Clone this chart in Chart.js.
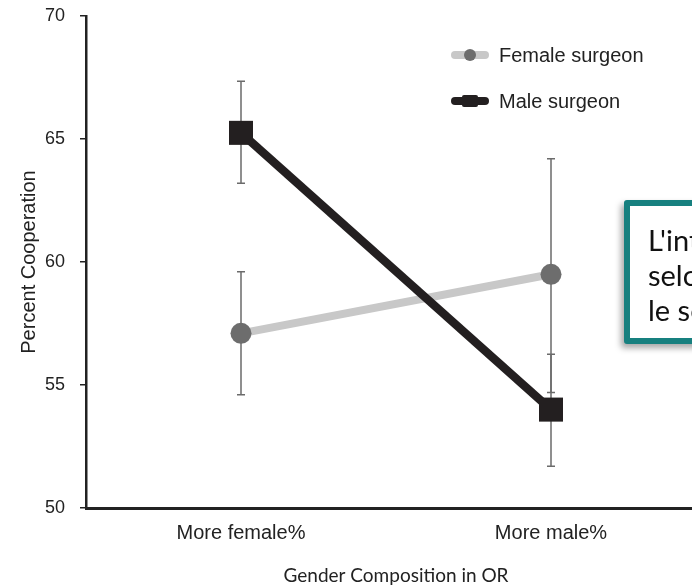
<!DOCTYPE html>
<html>
<head>
<meta charset="utf-8">
<script src="https://cdn.jsdelivr.net/npm/chart.js@4"></script>
<style>
  html, body { margin: 0; padding: 0; background: #fff; }
  body { width: 692px; height: 587px; overflow: hidden; position: relative; }
  #wrap { position: absolute; left: 0; top: 0; width: 720px; height: 587px; }
  .legend { position: absolute; left: 450px; font: 20px "Liberation Sans", Arial, sans-serif; color: #222; }
  .legend .item { position: absolute; left: 0; white-space: nowrap; height: 24px; }
  .legend .sym { position: absolute; left: 0; top: 0; width: 40px; height: 24px; }
  .legend .txt { position: absolute; left: 49px; top: 0; line-height: 24px; }
  .callout {
    position: absolute; left: 624px; top: 200px; width: 320px; height: 144px;
    border: 6px solid #17807f; border-radius: 3px; background: #fff;
    box-shadow: -3px 4px 6px rgba(0,0,0,0.35);
    font: 29px Lato, "Open Sans", sans-serif; color: #111; line-height: 35px;
    padding: 16px 0 0 18px; box-sizing: border-box; white-space: nowrap; z-index: 5;
  }
</style>
</head>
<body>
<div id="wrap"><canvas id="chart" width="720" height="587"></canvas></div>

<div class="legend">
  <div class="item" style="top:43px">
    <svg class="sym" viewBox="0 0 40 24"><line x1="5" y1="12" x2="35" y2="12" stroke="#c8c8c8" stroke-width="8" stroke-linecap="round"/><circle cx="20" cy="12" r="6" fill="#6d6d6d"/></svg>
    <span class="txt">Female surgeon</span>
  </div>
  <div class="item" style="top:89px">
    <svg class="sym" viewBox="0 0 40 24"><line x1="5" y1="12" x2="35" y2="12" stroke="#231f20" stroke-width="8" stroke-linecap="round"/><rect x="12" y="6" width="16" height="12" rx="2" fill="#231f20"/></svg>
    <span class="txt">Male surgeon</span>
  </div>
</div>

<div class="callout">L'interaction diffère<br>selon la composition<br>le sexe du chirurgien</div>

<script>
// Categories and tick values
const categories = ['More female%', 'More male%'];
const yTicks = [50, 55, 60, 65, 70];

// Mean percent cooperation per series
const femaleMeans = [57.1, 59.5];
const maleMeans = [65.25, 54.0];

// Error bar extents (low / high) per series
const femaleLow = [54.6, 54.7];
const femaleHigh = [59.6, 64.2];
const maleLow = [63.2, 51.7];
const maleHigh = [67.35, 56.25];

const errorBars = [
  { low: femaleLow, high: femaleHigh },
  { low: maleLow, high: maleHigh }
];

// Vertical whiskers with short caps, drawn beneath the lines and markers
const errorBarPlugin = {
  id: 'errorBars',
  beforeDatasetsDraw(chart) {
    const { ctx, scales: { x, y } } = chart;
    ctx.save();
    ctx.strokeStyle = '#6b6b6b';
    ctx.lineWidth = 1.5;
    errorBars.forEach(eb => {
      categories.forEach((c, i) => {
        const px = x.getPixelForValue(i);
        const yLo = y.getPixelForValue(eb.low[i]);
        const yHi = y.getPixelForValue(eb.high[i]);
        ctx.beginPath();
        ctx.moveTo(px, yLo); ctx.lineTo(px, yHi);
        ctx.moveTo(px - 4, yLo); ctx.lineTo(px + 4, yLo);
        ctx.moveTo(px - 4, yHi); ctx.lineTo(px + 4, yHi);
        ctx.stroke();
      });
    });
    ctx.restore();
  }
};

new Chart(document.getElementById('chart'), {
  type: 'line',
  data: {
    labels: categories,
    datasets: [
      {
        label: 'Female surgeon',
        data: femaleMeans,
        borderColor: '#c8c8c8',
        borderWidth: 8,
        pointStyle: 'circle',
        pointRadius: 10.5,
        pointBackgroundColor: '#6d6d6d',
        pointBorderWidth: 0,
        clip: false,
        order: 1
      },
      {
        label: 'Male surgeon',
        data: maleMeans,
        borderColor: '#231f20',
        borderWidth: 8.5,
        pointStyle: 'rect',
        pointRadius: 17,
        pointBackgroundColor: '#231f20',
        pointBorderWidth: 0,
        clip: false,
        order: 0
      }
    ]
  },
  options: {
    responsive: false,
    animation: false,
    layout: { autoPadding: false, padding: { top: 16, right: 14, left: 0, bottom: 0 } },
    plugins: { legend: { display: false }, tooltip: { enabled: false } },
    scales: {
      x: {
        type: 'category',
        offset: true,
        afterFit(scale) { scale.height = 79; },
        grid: { display: false, drawTicks: false },
        border: { display: true, color: '#222', width: 3 },
        ticks: {
          color: '#222',
          padding: 13,
          font: { family: '"Liberation Sans", Arial, sans-serif', size: 20 }
        },
        title: {
          display: true,
          text: 'Gender Composition in OR',
          color: '#222',
          padding: { top: 0, bottom: 0 },
          font: { family: 'Lato, "Open Sans", sans-serif', size: 19 }
        }
      },
      y: {
        min: 50,
        max: 70,
        afterFit(scale) {
          scale.width = 86;
          scale.paddingTop = 0;
          scale.paddingBottom = 0;
        },
        afterBuildTicks(scale) { scale.ticks = yTicks.map(v => ({ value: v })); },
        grid: { display: true, drawOnChartArea: false, drawTicks: true, tickLength: 6, color: '#222', lineWidth: 1.5 },
        border: { display: true, color: '#222', width: 2.5 },
        ticks: {
          color: '#222',
          padding: 15,
          font: { family: '"Liberation Sans", Arial, sans-serif', size: 18 }
        },
        title: {
          display: true,
          text: 'Percent Cooperation',
          color: '#222',
          padding: { top: 17, bottom: 0 },
          font: { family: '"Liberation Sans", Arial, sans-serif', size: 20 }
        }
      }
    }
  },
  plugins: [errorBarPlugin]
});
</script>
</body>
</html>
